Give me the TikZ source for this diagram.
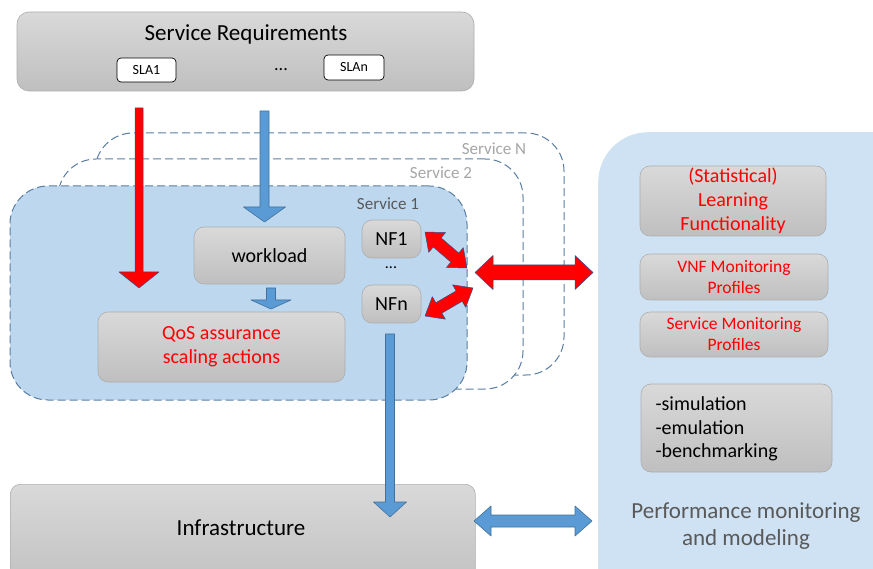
\documentclass[tikz,border=0pt]{standalone}
\usepackage{fontspec}
\setmainfont{Carlito}
\usetikzlibrary{calc}

\definecolor{svcfill}{HTML}{BDD7EE}
\definecolor{svcline}{HTML}{5A7EA3}
\definecolor{panelfill}{HTML}{CFE2F3}
\definecolor{bluearr}{HTML}{5B9BD5}
\definecolor{bluearrline}{HTML}{41719C}
\definecolor{redarrline}{HTML}{2F528F}
\definecolor{boxtop}{HTML}{D9D9D9}
\definecolor{boxbot}{HTML}{BFBFBF}
\definecolor{boxline}{HTML}{ADADAD}
\definecolor{darktext}{HTML}{595959}
\definecolor{lighttext}{HTML}{A6A6A6}
\definecolor{alertred}{HTML}{FF0000}

% block arrow: style, from, to, shaft half width, head half width, head length
\newcommand\blockarrow[6]{%
  \path (#2); \pgfgetlastxy{\bax}{\bay}
  \path (#3); \pgfgetlastxy{\bbx}{\bby}
  \pgfmathsetmacro\blen{veclen(\bbx-\bax,\bby-\bay)}
  \pgfmathsetmacro\bang{atan2(\bby-\bay,\bbx-\bax)}
  \pgfmathsetmacro\bneck{\blen-#6}
  \path[#1, shift={(#2)}, rotate=\bang]
    (0pt,-#4pt) -- (\bneck pt,-#4pt) -- (\bneck pt,-#5pt) -- (\blen pt,0pt)
    -- (\bneck pt,#5pt) -- (\bneck pt,#4pt) -- (0pt,#4pt) -- cycle;
}
% double-headed block arrow with the same arguments
\newcommand\doublearrow[6]{%
  \path (#2); \pgfgetlastxy{\bax}{\bay}
  \path (#3); \pgfgetlastxy{\bbx}{\bby}
  \pgfmathsetmacro\blen{veclen(\bbx-\bax,\bby-\bay)}
  \pgfmathsetmacro\bang{atan2(\bby-\bay,\bbx-\bax)}
  \pgfmathsetmacro\bneck{\blen-#6}
  \path[#1, shift={(#2)}, rotate=\bang]
    (0pt,0pt) -- (#6pt,-#5pt) -- (#6pt,-#4pt) -- (\bneck pt,-#4pt)
    -- (\bneck pt,-#5pt) -- (\blen pt,0pt) -- (\bneck pt,#5pt)
    -- (\bneck pt,#4pt) -- (#6pt,#4pt) -- (#6pt,#5pt) -- cycle;
}

\tikzset{
  graybox/.style={draw=boxline, line width=0.6pt, rounded corners=10pt,
    top color=boxtop, bottom color=boxbot, inner sep=0pt, align=center},
  slabox/.style={draw=black, line width=0.7pt, fill=white, rounded corners=4pt,
    inner sep=0pt, font=\fontsize{14}{16}\selectfont},
  svcback/.style={draw=svcline, line width=1pt, dash pattern=on 8pt off 4pt,
    rounded corners=38pt, fill=white, inner sep=0pt},
  svcfront/.style={svcback, fill=svcfill},
  bluefill/.style={fill=bluearr, draw=bluearrline, line width=0.6pt},
  redfill/.style={fill=alertred, draw=redarrline, line width=0.5pt},
  bigtxt/.style={font=\fontsize{23}{26.5}\selectfont},
  midtxt/.style={font=\fontsize{20}{24.2}\selectfont},
  smalltxt/.style={font=\fontsize{17.5}{21}\selectfont},
  svclabel/.style={font=\fontsize{17}{20}\selectfont},
}

\begin{document}
\begin{tikzpicture}[x=1pt, y=-1pt, line join=round]
\useasboundingbox (0,0) rectangle (873,569);
\clip (0,0) rectangle (873,569);

% service requirements
\node[graybox, rounded corners=12pt, minimum width=457pt, minimum height=79pt] (req) at (245.5,51.5) {};
\node[bigtxt] (reqtitle) at (246,34) {Service Requirements};
\node[slabox, minimum width=59pt, minimum height=24pt] (sla1) at (146.5,70) {SLA1};
\node[slabox, minimum width=60pt, minimum height=25pt] (slan) at (354,67.5) {SLAn};
\node[font=\fontsize{18}{20}\selectfont] (sladots) at (281,70) {...};

% stacked service instances
\node[svcback, minimum width=469pt, minimum height=242pt] (svcN) at (329.5,254) {};
\node[svcback, minimum width=465pt, minimum height=230pt] (svc2) at (290.5,274) {};
\node[svcfront, minimum width=457pt, minimum height=214pt] (svc1) at (238.5,293) {};
\node[svclabel, text=lighttext] (lblN) at (494,149) {Service N};
\node[svclabel, text=lighttext] (lbl2) at (441,173) {Service 2};
\node[svclabel, text=darktext] (lbl1) at (388,204) {Service 1};

% contents of service 1
\node[graybox, midtxt, minimum width=151pt, minimum height=57pt] (work) at (269.5,255.5) {workload};
\node[graybox, midtxt, text=alertred, minimum width=247pt, minimum height=70pt] (qos) at (221.5,347) {QoS assurance\\scaling actions};
\node[graybox, midtxt, minimum width=59pt, minimum height=38pt] (nf1) at (391.5,239) {NF1};
\node[graybox, midtxt, minimum width=59pt, minimum height=38pt] (nfn) at (391.5,304) {NFn};
\node[font=\fontsize{16}{18}\selectfont] (nfdots) at (391,268) {...};

% infrastructure
\node[graybox, minimum width=465pt, minimum height=110pt, anchor=north west] (infra) at (10,484) {};
\node[bigtxt] (infratxt) at (241,528) {Infrastructure};

% performance monitoring panel
\node[fill=panelfill, rounded corners=50pt, minimum width=340pt, minimum height=500pt, anchor=north west, inner sep=0pt] (panel) at (598,132) {};
\node[graybox, midtxt, text=alertred, minimum width=186pt, minimum height=70pt] (learn) at (733,201) {(Statistical)\\Learning\\Functionality};
\node[graybox, smalltxt, text=alertred, minimum width=188pt, minimum height=46pt] (vnfprof) at (734,277) {VNF Monitoring\\Profiles};
\node[graybox, smalltxt, text=alertred, minimum width=188pt, minimum height=45pt] (svcprof) at (734,334.5) {Service Monitoring\\Profiles};
\node[graybox, minimum width=191pt, minimum height=88pt] (sim) at (736.5,428) {};
\node[align=left, anchor=west, font=\fontsize{20}{23.5}\selectfont] (simtxt) at (652,429) {-simulation\\-emulation\\-benchmarking};
\node[bigtxt, text=darktext, align=center] (perftxt) at (746,526) {Performance monitoring\\and modeling};

% arrow end points
\coordinate (redA) at (139,108);
\coordinate (redB) at (139,288);
\coordinate (blueA) at (264.5,111);
\coordinate (blueB) at (264.5,222);
\coordinate (wlA) at (271,288);
\coordinate (wlB) at (271,309);
\coordinate (infA) at (390,334);
\coordinate (infB) at (390,517);
\coordinate (nf1A) at (425,232);
\coordinate (nf1B) at (467,268);
\coordinate (nfnA) at (425,316);
\coordinate (nfnB) at (473,288);
\coordinate (monA) at (475,272.5);
\coordinate (monB) at (593,272.5);
\coordinate (infpA) at (474,521);
\coordinate (infpB) at (592,521);

% arrows
\blockarrow{redfill}{redA}{redB}{4}{20}{16}
\blockarrow{bluefill}{blueA}{blueB}{4.5}{21}{15}
\blockarrow{bluefill}{wlA}{wlB}{4.5}{20}{9}
\blockarrow{bluefill}{infA}{infB}{4.5}{16.5}{15}
\doublearrow{redfill}{nf1A}{nf1B}{6}{13}{16}
\doublearrow{redfill}{nfnA}{nfnB}{6}{13}{16}
\doublearrow{redfill}{monA}{monB}{7.5}{17}{18}
\doublearrow{bluefill}{infpA}{infpB}{6}{15}{17}
\end{tikzpicture}
\end{document}
